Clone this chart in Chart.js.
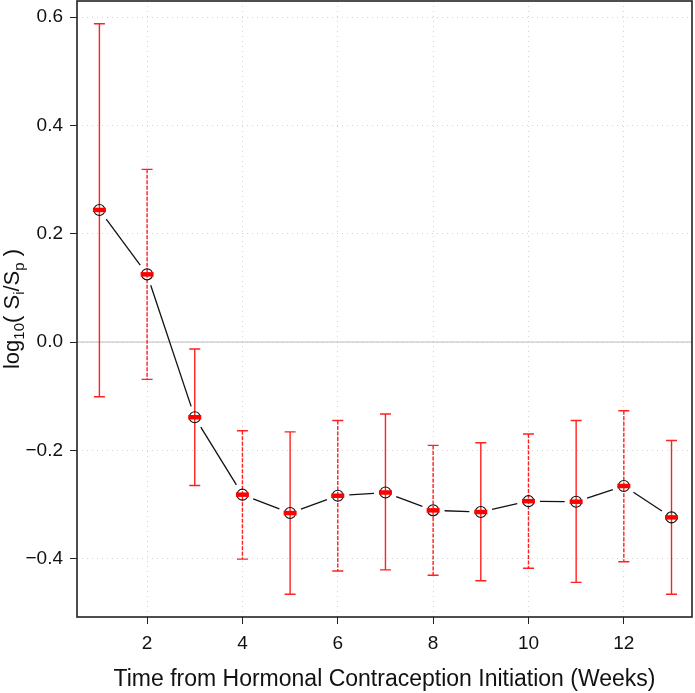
<!DOCTYPE html>
<html>
<head>
<meta charset="utf-8">
<script src="https://cdn.jsdelivr.net/npm/chart.js@4.4.0/dist/chart.umd.min.js"></script>
<style>
html, body { margin: 0; padding: 0; background: #fff; }
</style>
</head>
<body>
<canvas id="myChart" width="695" height="693"></canvas>
<script>
const weeks = [1, 2, 3, 4, 5, 6, 7, 8, 9, 10, 11, 12, 13];
const ratio = [0.244, 0.125, -0.139, -0.282, -0.316, -0.284, -0.278, -0.311, -0.314, -0.294, -0.295, -0.266, -0.324];
const upper = [0.588, 0.319, -0.013, -0.164, -0.166, -0.145, -0.133, -0.191, -0.186, -0.170, -0.145, -0.127, -0.182];
const lower = [-0.101, -0.069, -0.265, -0.401, -0.466, -0.423, -0.421, -0.431, -0.441, -0.418, -0.444, -0.406, -0.466];
const xTicks = [2, 4, 6, 8, 10, 12];
const yTicks = [-0.4, -0.2, 0, 0.2, 0.4, 0.6];

const FONT = "'Liberation Sans', Arial, Helvetica, sans-serif";

const points = weeks.map((w, i) => ({ x: w, y: ratio[i] }));

// no extra room for the end labels, the box is fixed
const noPad = s => {
    s.paddingTop = 0;
    s.paddingBottom = 0;
    s.paddingLeft = 0;
    s.paddingRight = 0;
};

// error bars, zero line and the gapped connecting line (R type="b")
const underlay = {
    id: 'underlay',
    beforeDatasetsDraw(chart) {
        const ctx = chart.ctx;
        const xs = chart.scales.x, ys = chart.scales.y;
        const area = chart.chartArea;
        ctx.save();
        // zero line
        ctx.strokeStyle = '#bdbdbd';
        ctx.lineWidth = 1;
        const y0 = ys.getPixelForValue(0);
        ctx.beginPath();
        ctx.moveTo(area.left, y0);
        ctx.lineTo(area.right, y0);
        ctx.stroke();

        // connecting line with gaps at the points
        const gap = 11.5;
        ctx.strokeStyle = '#111';
        ctx.lineWidth = 1.3;
        for (let i = 0; i < weeks.length - 1; i++) {
            const x1 = xs.getPixelForValue(weeks[i]), y1 = ys.getPixelForValue(ratio[i]);
            const x2 = xs.getPixelForValue(weeks[i + 1]), y2 = ys.getPixelForValue(ratio[i + 1]);
            const len = Math.hypot(x2 - x1, y2 - y1);
            if (len <= 2 * gap) continue;
            const ux = (x2 - x1) / len, uy = (y2 - y1) / len;
            ctx.beginPath();
            ctx.moveTo(x1 + ux * gap, y1 + uy * gap);
            ctx.lineTo(x2 - ux * gap, y2 - uy * gap);
            ctx.stroke();
        }

        // error bars (even weeks dashed)
        ctx.strokeStyle = '#ff2020';
        ctx.lineWidth = 1.4;
        const cap = 5.5;
        weeks.forEach((w, i) => {
            const x = xs.getPixelForValue(w);
            const yt = ys.getPixelForValue(upper[i]);
            const yb = ys.getPixelForValue(lower[i]);
            ctx.setLineDash(w % 2 === 0 ? [4, 1.5] : []);
            ctx.beginPath();
            ctx.moveTo(x, yt);
            ctx.lineTo(x, yb);
            ctx.stroke();
            ctx.setLineDash([]);
            ctx.beginPath();
            ctx.moveTo(x - cap, yt);
            ctx.lineTo(x + cap, yt);
            ctx.moveTo(x - cap, yb);
            ctx.lineTo(x + cap, yb);
            ctx.stroke();
        });
        ctx.restore();
    }
};

// box and y-axis title with subscripts
const overlay = {
    id: 'overlay',
    afterDraw(chart) {
        const ctx = chart.ctx;
        const area = chart.chartArea;
        ctx.save();
        ctx.strokeStyle = '#222';
        ctx.lineWidth = 1.6;
        ctx.strokeRect(area.left, area.top, area.right - area.left, area.bottom - area.top);

        const parts = [
            ['log', 22, 0], ['10', 15, 5], ['( S', 22, 0], ['i', 15, 5],
            ['/S', 22, 0], ['p', 15, 5], [' )', 22, 0]
        ];
        let total = 0;
        parts.forEach(p => {
            ctx.font = p[1] + 'px ' + FONT;
            total += ctx.measureText(p[0]).width;
        });
        ctx.translate(18.5, (area.top + area.bottom) / 2);
        ctx.rotate(-Math.PI / 2);
        ctx.fillStyle = '#111';
        ctx.textBaseline = 'alphabetic';
        let cx = -total / 2;
        parts.forEach(p => {
            ctx.font = p[1] + 'px ' + FONT;
            ctx.fillText(p[0], cx, p[2]);
            cx += ctx.measureText(p[0]).width;
        });
        ctx.restore();
    }
};

const data = {
    datasets: [{
        data: points,
        showLine: false,
        pointStyle: 'line',
        pointRadius: 6.5,
        pointBorderWidth: 4.5,
        pointBorderColor: '#ff0000',
        pointBackgroundColor: '#ff0000',
    }, {
        data: points,
        showLine: false,
        pointStyle: 'circle',
        pointRadius: 5.5,
        pointBorderWidth: 1.1,
        pointBorderColor: '#111',
        pointBackgroundColor: 'rgba(0,0,0,0)',
    }]
};

const options = {
    responsive: false,
    animation: false,
    devicePixelRatio: 1,
    layout: { autoPadding: false, padding: { top: 1, right: 3, left: 0, bottom: 0 } },
    scales: {
        x: {
            type: 'linear',
            min: 0.53,
            max: 13.43,
            afterBuildTicks: s => { s.ticks = xTicks.map(v => ({ value: v })); },
            afterFit: s => { s.height = 76; noPad(s); },
            grid: {
                color: '#d4d4d4',
                lineWidth: 1,
                tickColor: '#222',
                tickLength: 7,
                tickWidth: 1,
                tickBorderDash: [],
            },
            border: { display: false, dash: [1, 4] },
            ticks: {
                padding: 8,
                color: '#111',
                font: { family: FONT, size: 19 },
                maxRotation: 0,
                callback: v => String(v),
            },
            title: {
                display: true,
                text: 'Time from Hormonal Contraception Initiation (Weeks)',
                color: '#111',
                font: { family: FONT, size: 23 },
                padding: { top: 4, bottom: 0 },
            },
        },
        y: {
            min: -0.508,
            max: 0.630,
            afterBuildTicks: s => { s.ticks = yTicks.map(v => ({ value: v })); },
            afterFit: s => { s.width = 77; noPad(s); },
            grid: {
                color: '#d4d4d4',
                lineWidth: 1,
                tickColor: '#222',
                tickLength: 7,
                tickWidth: 1,
                tickBorderDash: [],
            },
            border: { display: false, dash: [1, 4] },
            ticks: {
                padding: 7,
                color: '#111',
                font: { family: FONT, size: 19 },
                callback: v => (v < 0 ? '\u2212' : '') + Math.abs(v).toFixed(1),
            },
        },
    },
    plugins: {
        legend: { display: false },
        tooltip: { enabled: false },
    }
};

const myChart = new Chart(
    document.getElementById('myChart'),
    { type: 'line', data: data, options: options, plugins: [underlay, overlay] }
);
</script>
</body>
</html>
